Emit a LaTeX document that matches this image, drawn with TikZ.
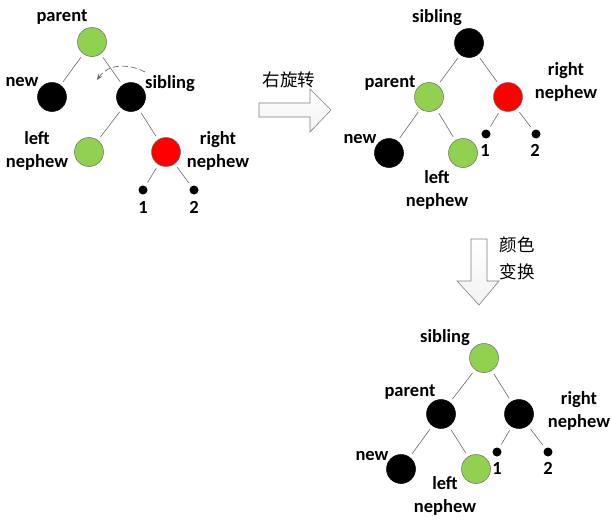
\documentclass[tikz,border=0pt]{standalone}
\usepackage{fontspec}
\setmainfont{Carlito}
\newfontfamily\cjk{Noto Sans CJK SC}
\usetikzlibrary{arrows.meta}
\definecolor{ngreen}{HTML}{92D050}
\definecolor{nred}{HTML}{FF0000}
\definecolor{egray}{HTML}{6A6A6A}
\begin{document}
\begin{tikzpicture}[x=1pt,y=-1pt,
  rb/.style={circle,minimum size=29pt,inner sep=0pt,draw=egray,line width=0.5pt},
  gnode/.style={rb,fill=ngreen},
  rnode/.style={rb,fill=nred},
  bnode/.style={rb,fill=black,draw=black},
  leaf/.style={circle,fill=black,minimum size=9pt,inner sep=0pt},
  lbl/.style={font=\bfseries\fontsize{18.5}{23}\selectfont,inner sep=0pt,align=center},
  edge/.style={draw=egray,line width=0.6pt,shorten >=4pt,shorten <=4pt},
  blockarrow/.style={draw=gray,line width=0.6pt,top color=white,bottom color=gray!10},
  cn/.style={font=\cjk\fontsize{17.5}{27}\selectfont,inner sep=0pt,align=center}
]
\useasboundingbox (0,0) rectangle (611,522);
% ---------- tree 1 ----------
\node[gnode] (p1) at (92,42) {};
\node[bnode] (n1) at (52,97) {};
\node[bnode] (s1) at (131,97) {};
\node[gnode] (l1) at (89,152) {};
\node[rnode] (r1) at (166,152) {};
\node[leaf] (a1) at (143,190) {};
\node[leaf] (b1) at (194,190) {};
\draw[edge] (p1) -- (n1);
\draw[edge] (p1) -- (s1);
\draw[edge] (s1) -- (l1);
\draw[edge] (s1) -- (r1);
\draw[edge] (r1) -- (a1);
\draw[edge] (r1) -- (b1);
\node[lbl] (tp1) at (62,17) {parent};
\node[lbl] (tn1) at (22,82) {new};
\node[lbl] (ts1) at (170,84) {sibling};
\node[lbl] (tl1) at (37,151) {left\\nephew};
\node[lbl] (tr1) at (218,151) {right\\nephew};
\node[lbl] (t11) at (143,207) {1};
\node[lbl] (t21) at (194,207) {2};
\coordinate (ds) at (145,72);
\coordinate (de) at (97,80);
\draw[draw=egray,line width=0.7pt,dash pattern=on 6pt off 3pt,-{Stealth[length=6pt,width=5pt]}]
  (ds) .. controls (128,63) and (108,64) .. (de);
% ---------- right arrow ----------
\path[blockarrow] (259,103) -- (310,103) -- (310,89) -- (331,110) -- (310,132) -- (310,117) -- (259,117) -- cycle;
\node[cn] (c1) at (289,80) {右旋转};
% ---------- tree 2 ----------
\node[bnode] (s2) at (469,43) {};
\node[gnode] (p2) at (429,97) {};
\node[rnode] (r2) at (508,97) {};
\node[bnode] (n2) at (389,153) {};
\node[gnode] (l2) at (463,153) {};
\node[leaf] (a2) at (486,134) {};
\node[leaf] (b2) at (536,134) {};
\draw[edge] (s2) -- (p2);
\draw[edge] (s2) -- (r2);
\draw[edge] (p2) -- (n2);
\draw[edge] (p2) -- (l2);
\draw[edge] (r2) -- (a2);
\draw[edge] (r2) -- (b2);
\node[lbl] (ts2) at (437,18) {sibling};
\node[lbl] (tp2) at (390,83) {parent};
\node[lbl] (tr2) at (566,82) {right\\nephew};
\node[lbl] (tn2) at (360,139) {new};
\node[lbl] (tl2) at (437,190) {left\\nephew};
\node[lbl] (t12) at (485,150) {1};
\node[lbl] (t22) at (535,150) {2};
% ---------- down arrow ----------
\path[blockarrow] (471,239) -- (487,239) -- (487,281) -- (499,281) -- (479,305) -- (457,281) -- (471,281) -- cycle;
\node[cn] (c2) at (517,258) {颜色\\变换};
% ---------- tree 3 ----------
\node[gnode] (s3) at (484,358) {};
\node[bnode] (p3) at (441,414) {};
\node[bnode] (r3) at (519,414) {};
\node[bnode] (n3) at (401,469) {};
\node[gnode] (l3) at (476,469) {};
\node[leaf] (a3) at (497,452) {};
\node[leaf] (b3) at (548,452) {};
\draw[edge] (s3) -- (p3);
\draw[edge] (s3) -- (r3);
\draw[edge] (p3) -- (n3);
\draw[edge] (p3) -- (l3);
\draw[edge] (r3) -- (a3);
\draw[edge] (r3) -- (b3);
\node[lbl] (ts3) at (445,338) {sibling};
\node[lbl] (tp3) at (410,392) {parent};
\node[lbl] (tr3) at (579,411) {right\\nephew};
\node[lbl] (tn3) at (372,456) {new};
\node[lbl] (tl3) at (445,496) {left\\nephew};
\node[lbl] (t13) at (497,468) {1};
\node[lbl] (t23) at (548,468) {2};
\end{tikzpicture}
\end{document}
